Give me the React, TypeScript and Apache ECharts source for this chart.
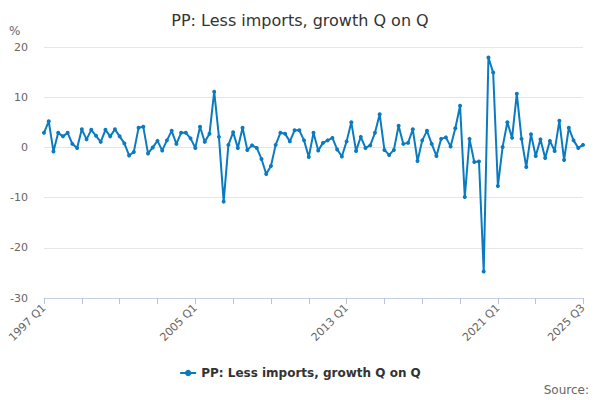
import * as echarts from "echarts";
import { useEffect, useRef } from "react";

const startYear = 1997;
const quarterCount = 115;

const growth = [
  2.9, 5.2, -0.8, 2.9, 2.2, 2.9, 0.7, -0.1, 3.6, 1.6, 3.5, 2.3, 1.1, 3.5, 2.2, 3.6,
  2.2, 0.8, -1.6, -0.9, 3.9, 4.1, -1.2, 0.0, 1.3, -0.6, 1.4, 3.3, 0.7, 2.9, 2.9, 1.8,
  -0.1, 4.1, 1.1, 2.7, 11.1, 2.1, -10.8, 0.5, 3.0, -0.1, 3.9, -0.5, 0.4, -0.1, -2.3, -5.3,
  -3.7, 0.5, 2.9, 2.7, 1.2, 3.4, 3.4, 1.4, -1.9, 2.9, -0.6, 0.9, 1.4, 1.9, -0.4, -1.8,
  1.2, 5.0, -0.7, 2.1, -0.1, 0.4, 2.9, 6.6, -0.5, -1.5, -0.5, 4.3, 0.7, 0.9, 3.6, -2.7,
  1.4, 3.3, 0.7, -1.7, 1.7, 2.0, 0.2, 3.8, 8.3, -9.9, 1.7, -2.9, -2.8, -24.7, 17.9, 14.9,
  -7.7, 0.1, 5.0, 1.9, 10.7, 1.7, -3.9, 2.6, -1.7, 1.6, -2.1, 1.3, -0.7, 5.3, -2.5, 3.9,
  1.4, -0.1, 0.5
];

const quarters: string[] = [];
for (let i = 0; i < quarterCount; i++) {
  quarters.push(`${startYear + Math.floor(i / 4)} Q${(i % 4) + 1}`);
}

const labelIndexes = [0, 32, 64, 96, 114];
const font = "DejaVu Sans";
const seriesName = "PP: Less imports, growth Q on Q";

export default function App() {
  const ref = useRef<HTMLDivElement | null>(null);

  useEffect(() => {
    document.body.style.margin = "0";
    if (!ref.current) {
      return;
    }

    const chart = echarts.init(ref.current, undefined, { renderer: "svg" });
    const last = quarters.length - 1;
    chart.setOption({
      animation: false,
      textStyle: { fontFamily: font },
      title: {
        text: seriesName,
        left: "center",
        top: 7,
        textStyle: { fontFamily: font, fontSize: 16, fontWeight: "normal", color: "#333333" }
      },
      grid: { left: 44, right: 17, top: 47, bottom: 102 },
      legend: {
        bottom: 16,
        left: "center",
        itemWidth: 16,
        itemHeight: 8,
        textStyle: { fontFamily: font, fontSize: 12, fontWeight: "bold", color: "#333333" }
      },
      xAxis: {
        type: "category",
        data: quarters,
        boundaryGap: false,
        axisLine: { onZero: false, lineStyle: { color: "#c4cfe4" } },
        axisTick: {
          show: true,
          length: 6,
          lineStyle: { color: "#b8c4dc", width: 1 },
          interval: (index: number) => (index % 8 === 0 && index < 112) || index === last
        },
        axisLabel: {
          rotate: 45,
          color: "#666666",
          fontSize: 11,
          fontFamily: font,
          interval: (index: number) => labelIndexes.includes(index)
        },
        splitLine: { show: false }
      },
      yAxis: {
        type: "value",
        min: -30,
        max: 20,
        interval: 10,
        axisLabel: { color: "#666666", fontSize: 11, fontFamily: font, margin: 16 },
        splitLine: { lineStyle: { color: "#e6e6e6" } },
        axisLine: { show: false },
        axisTick: { show: false }
      },
      series: [
        {
          name: seriesName,
          type: "line",
          data: growth,
          symbol: "circle",
          symbolSize: 4,
          showAllSymbol: true,
          itemStyle: { color: "#0a7bc1" },
          lineStyle: { color: "#0a7bc1", width: 2 }
        }
      ],
      graphic: [
        {
          type: "text",
          left: 9,
          top: 25,
          style: { text: "%", fontFamily: font, fontSize: 12, fill: "#666666" }
        },
        {
          type: "text",
          right: 11,
          bottom: 4,
          style: { text: "Source:", fontFamily: font, fontSize: 12, fill: "#666666" }
        }
      ]
    });

    return () => {
      chart.dispose();
    };
  }, []);

  return <div ref={ref} style={{ width: 600, height: 400 }} />;
}
